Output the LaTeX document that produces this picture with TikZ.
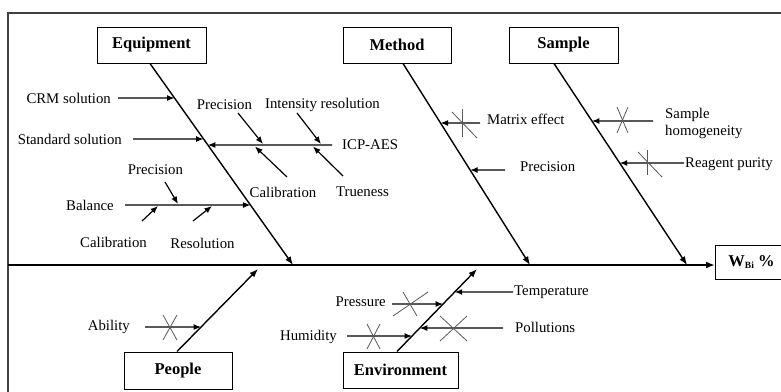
\documentclass[tikz,border=0pt]{standalone}
\usepackage{fontspec}
\setmainfont{Liberation Serif}
\usetikzlibrary{arrows.meta}
\begin{document}
\begin{tikzpicture}[x=1pt,y=-1pt,
  frame/.style={draw=black!75, line width=1.3pt},
  bone/.style={line width=1.4pt, -{Latex[length=8.5pt,width=6.5pt]}},
  spine/.style={line width=2pt, -{Latex[length=9pt,width=7pt]}},
  sub/.style={line width=1.2pt, -{Latex[length=7.5pt,width=6pt]}},
  cross/.style={line width=0.8pt, draw=black!65},
  catbox/.style={draw, line width=1pt, minimum height=36pt, inner sep=0pt, font=\fontsize{16.5}{18}\selectfont\bfseries},
  lab/.style={inner sep=1pt, font=\fontsize{14.8}{17}\selectfont},
]
\useasboundingbox (0,0) rectangle (781,391);
\clip (0,0) rectangle (781,391);
% frame
\draw[frame] (8,395) -- (8,13) -- (785,13);
% category boxes
\node[catbox, minimum width=109pt] (equip) at (151.5,45) {Equipment};
\node[catbox, minimum width=108pt] (method) at (397,45) {Method};
\node[catbox, minimum width=109pt] (sample) at (563.5,45) {Sample};
\node[catbox, minimum width=108pt, minimum height=37pt] (people) at (178,370.5) {People};
\node[catbox, minimum width=115pt] (env) at (400.5,370) {Environment};
\node[catbox, minimum width=72pt, minimum height=34pt, anchor=west] (wbi) at (715,262) {W{\fontsize{9.5}{9.5}\selectfont\raisebox{-2.5pt}{Bi}} \%};
% spine
\coordinate (sp0) at (8,265);
\draw[spine] (sp0) -- (wbi.west |- sp0);
% bones
\coordinate (eqS) at ([xshift=-1.5pt]equip.south);
\coordinate (eqE) at (293,265);
\coordinate (meS) at ([xshift=6pt]method.south);
\coordinate (meE) at (530,265);
\coordinate (saS) at ([xshift=-9.5pt]sample.south);
\coordinate (saE) at (687,265);
\coordinate (peS) at ([xshift=-1pt]people.north);
\coordinate (peE) at (258,269);
\coordinate (enS) at ([xshift=-3.5pt]env.north);
\coordinate (enE) at (477,269);
\draw[bone] (eqS) -- (eqE);
\draw[bone] (meS) -- (meE);
\draw[bone] (saS) -- (saE);
\draw[bone] (peS) -- (peE);
\draw[bone] (enS) -- (enE);

% ---- Equipment ----
\node[lab, anchor=east] (crm) at (112,98) {CRM solution};
\draw[sub] ([xshift=6pt]crm.east) -- (intersection of eqS--eqE and 0,98--1,98);
\node[lab, anchor=east] (std) at (123,139) {Standard solution};
\draw[sub] ([xshift=10pt]std.east) -- (intersection of eqS--eqE and 0,139--1,139);
\node[lab, anchor=west] (icp) at (341,145) {ICP-AES};
\coordinate (icpS) at ([xshift=-9pt]icp.west);
\draw[sub] (icpS) -- (intersection of eqS--eqE and 0,145--1,145);
\node[lab] (prec1) at (224.5,105) {Precision};
\node[lab] (intres) at (322.5,105) {Intensity resolution};
\node[lab] (cal1) at (283,192) {Calibration};
\node[lab] (true) at (362.5,192) {Trueness};
\coordinate (p1a) at (238,113); \coordinate (p1b) at (263,144);
\coordinate (ira) at (297,113); \coordinate (irb) at (321,144);
\coordinate (c1a) at (287,177); \coordinate (c1b) at (255,146.5);
\coordinate (tra) at (343,176); \coordinate (trb) at (313,146.5);
\draw[sub] (p1a) -- (p1b);
\draw[sub] (ira) -- (irb);
\draw[sub] (c1a) -- (c1b);
\draw[sub] (tra) -- (trb);
\node[lab, anchor=east] (bal) at (115,205) {Balance};
\draw[sub] ([xshift=10pt]bal.east) -- (intersection of eqS--eqE and 0,205--1,205);
\node[lab] (prec2) at (155.5,170) {Precision};
\node[lab] (cal2) at (113.5,242) {Calibration};
\node[lab] (res) at (202.5,243) {Resolution};
\coordinate (p2a) at (165,182); \coordinate (p2b) at (178,204);
\coordinate (c2a) at (142,221); \coordinate (c2b) at (158,206);
\coordinate (r2a) at (193,221); \coordinate (r2b) at (212,206);
\draw[sub] (p2a) -- (p2b);
\draw[sub] (c2a) -- (c2b);
\draw[sub] (r2a) -- (r2b);

% ---- Method ----
\node[lab, anchor=west] (matrix) at (486,119) {Matrix effect};
\coordinate (mxS) at (480,123);
\draw[sub] (mxS) -- (intersection of meS--meE and 0,123--1,123);
\draw[cross] (462,109) -- (462,137);
\draw[cross] (452,112) -- (477,138);
\node[lab, anchor=west] (prec3) at (519,167) {Precision};
\coordinate (pmS) at (505,170);
\draw[sub] (pmS) -- (intersection of meS--meE and 0,170--1,170);

% ---- Sample ----
\node[lab, anchor=west, align=left] (homog) at (664,123.5) {Sample\\homogeneity};
\coordinate (hoS) at (653,121);
\draw[sub] (hoS) -- (intersection of saS--saE and 0,121--1,121);
\draw[cross] (617,107) -- (628,133);
\draw[cross] (628,107) -- (617,133);
\node[lab, anchor=west] (reag) at (684,164) {Reagent purity};
\draw[sub] (reag.west |- 0,163) -- (intersection of saS--saE and 0,163--1,163);
\draw[cross] (647,150) -- (647,175);
\draw[cross] (638,152) -- (662,177);

% ---- People ----
\node[lab, anchor=east] (abil) at (131,327) {Ability};
\draw[sub] ([xshift=14pt]abil.east) -- (intersection of peS--peE and 0,327--1,327);
\draw[cross] (163,315) -- (177,340);
\draw[cross] (177,315) -- (163,340);

% ---- Environment ----
\node[lab, anchor=east] (press) at (387,302) {Pressure};
\coordinate (prS) at (392,304);
\draw[sub] (prS) -- (intersection of enS--enE and 0,304--1,304);
\draw[cross] (393,316) -- (428,292);
\draw[cross] (403,292) -- (417,316);
\node[lab, anchor=east] (humid) at (338,337) {Humidity};
\coordinate (huS) at (347,336);
\draw[sub] (huS) -- (intersection of enS--enE and 0,336--1,336);
\draw[cross] (367,324) -- (380,349);
\draw[cross] (380,324) -- (367,349);
\node[lab, anchor=west] (temp) at (513,292) {Temperature};
\draw[sub] (temp.west) -- (intersection of enS--enE and 0,292--1,292);
\node[lab, anchor=west] (poll) at (514,327) {Pollutions};
\coordinate (poS) at (503,328);
\draw[sub] (poS) -- (intersection of enS--enE and 0,328--1,328);
\draw[cross] (440,316) -- (467,341);
\draw[cross] (467,316) -- (440,341);
\end{tikzpicture}
\end{document}
